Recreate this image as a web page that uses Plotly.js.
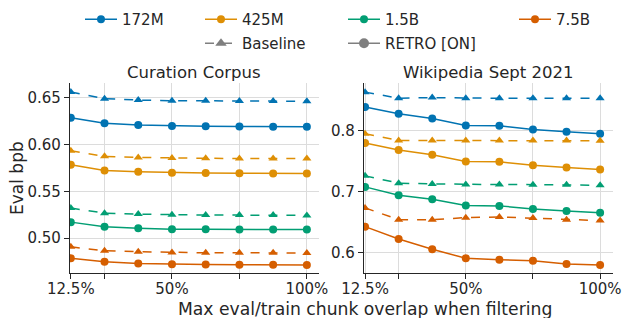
<!DOCTYPE html>
<html><head><meta charset="utf-8">
<script src="https://cdn.plot.ly/plotly-3.0.1.min.js"></script>
<style>body{margin:0;padding:0;background:#fff}#chart{width:625px;height:318px}</style>
</head><body><div id="chart"></div>
<script>
const overlap = [12.5, 25, 37.5, 50, 62.5, 75, 87.5, 100];
const models = ['172M', '425M', '1.5B', '7.5B'];
const colors = ['#0173b2', '#de8f05', '#029e73', '#d55e00'];

// Curation Corpus
const ccBaseline172 = [0.656, 0.649, 0.6475, 0.6467, 0.6467, 0.6466, 0.6466, 0.6462];
const ccRetro172    = [0.6286, 0.6227, 0.6208, 0.6198, 0.6195, 0.6193, 0.6191, 0.619];
const ccBaseline425 = [0.5934, 0.5874, 0.5863, 0.5856, 0.5853, 0.5852, 0.5852, 0.585];
const ccRetro425    = [0.5784, 0.5724, 0.571, 0.570, 0.5696, 0.5693, 0.5692, 0.5692];
const ccBaseline15  = [0.5322, 0.5268, 0.5258, 0.525, 0.5247, 0.5247, 0.5247, 0.5244];
const ccRetro15     = [0.5172, 0.5122, 0.5108, 0.5097, 0.5095, 0.5094, 0.5094, 0.5094];
const ccBaseline75  = [0.4908, 0.4866, 0.4856, 0.4848, 0.4845, 0.4845, 0.4844, 0.4842];
const ccRetro75     = [0.4787, 0.4748, 0.4731, 0.4723, 0.472, 0.4717, 0.4716, 0.4714];

// Wikipedia Sept 2021
const wkBaseline172 = [0.863, 0.853, 0.854, 0.853, 0.853, 0.853, 0.853, 0.853];
const wkRetro172    = [0.8385, 0.8275, 0.8197, 0.8082, 0.8077, 0.8016, 0.7979, 0.7946];
const wkBaseline425 = [0.7946, 0.7836, 0.7836, 0.7835, 0.7835, 0.7834, 0.7834, 0.783];
const wkRetro425    = [0.7793, 0.7678, 0.760, 0.749, 0.7485, 0.7431, 0.7392, 0.7359];
const wkBaseline15  = [0.7255, 0.7135, 0.7123, 0.7112, 0.7112, 0.7111, 0.7111, 0.7101];
const wkRetro15     = [0.7074, 0.6937, 0.6872, 0.6767, 0.6762, 0.6712, 0.6679, 0.6651];
const wkBaseline75  = [0.6729, 0.6536, 0.6536, 0.6569, 0.658, 0.6564, 0.6536, 0.652];
const wkRetro75     = [0.6421, 0.6219, 0.605, 0.5901, 0.5878, 0.5862, 0.5808, 0.5791];

const xTickVals = [12.5, 25, 50, 75, 100];
const xTickText = ['12.5%', '', '50%', '', '100%'];
const ccTicks = [0.50, 0.55, 0.60, 0.65];
const wkTicks = [0.6, 0.7, 0.8];

const ccBase = [ccBaseline172, ccBaseline425, ccBaseline15, ccBaseline75];
const ccRet = [ccRetro172, ccRetro425, ccRetro15, ccRetro75];
const wkBase = [wkBaseline172, wkBaseline425, wkBaseline15, wkBaseline75];
const wkRet = [wkRetro172, wkRetro425, wkRetro15, wkRetro75];
const legendIds = ['legend', 'legend2', 'legend3', 'legend4'];

const traces = [];
for (let i = 0; i < 4; i++) {
  traces.push({x: overlap, y: ccBase[i], xaxis: 'x', yaxis: 'y', mode: 'lines+markers',
    line: {color: colors[i], width: 1.5, dash: 'dash'}, marker: {symbol: 'triangle-up', size: 8, color: colors[i]},
    showlegend: false});
  traces.push({x: overlap, y: ccRet[i], xaxis: 'x', yaxis: 'y', mode: 'lines+markers',
    line: {color: colors[i], width: 1.5}, marker: {symbol: 'circle', size: 8, color: colors[i]},
    name: models[i], showlegend: true, legend: legendIds[i], legendgroup: 'm' + i});
  traces.push({x: overlap, y: wkBase[i], xaxis: 'x2', yaxis: 'y2', mode: 'lines+markers',
    line: {color: colors[i], width: 1.5, dash: 'dash'}, marker: {symbol: 'triangle-up', size: 8, color: colors[i]},
    showlegend: false});
  traces.push({x: overlap, y: wkRet[i], xaxis: 'x2', yaxis: 'y2', mode: 'lines+markers',
    line: {color: colors[i], width: 1.5}, marker: {symbol: 'circle', size: 8, color: colors[i]},
    showlegend: false});
}
traces.push({x: [null], y: [null], xaxis: 'x', yaxis: 'y', mode: 'lines+markers', name: 'Baseline',
  line: {color: '#7f7f7f', width: 1.5, dash: 'dash'}, marker: {symbol: 'triangle-up', size: 10, color: '#7f7f7f'},
  legend: 'legend2', legendgroup: 'base'});
traces.push({x: [null], y: [null], xaxis: 'x', yaxis: 'y', mode: 'lines+markers', name: 'RETRO [ON]',
  line: {color: '#7f7f7f', width: 1.5}, marker: {symbol: 'circle', size: 10, color: '#7f7f7f'},
  legend: 'legend3', legendgroup: 'retro'});

const font = {family: 'DejaVu Sans', color: '#262626'};
const axX = (dom) => ({domain: dom, range: [12.2, 104.5], tickvals: xTickVals, ticktext: xTickText,
  showgrid: true, gridcolor: '#dcdcdc', gridwidth: 1, zeroline: false, showline: true, linecolor: '#262626', linewidth: 1.2,
  ticks: 'outside', ticklen: 5, tickcolor: '#262626', ticklabelstandoff: -3,
  tickfont: {family: 'DejaVu Sans', size: 15, color: '#262626'}});
const axY = (dom, rng, tv, fmt, anchor) => ({domain: dom, range: rng, tickvals: tv, tickformat: fmt, anchor: anchor,
  showgrid: true, gridcolor: '#dcdcdc', gridwidth: 1, zeroline: false, showline: true, linecolor: '#262626', linewidth: 1.2,
  ticks: 'outside', ticklen: 5, tickcolor: '#262626', tickfont: {family: 'DejaVu Sans', size: 15, color: '#262626'}});

const yDom = [0.1406, 0.739];
const legendBase = {orientation: 'v', yanchor: 'top', y: 1 - 3 / 318, xanchor: 'left', bgcolor: 'rgba(0,0,0,0)',
  font: {family: 'DejaVu Sans', size: 15, color: '#262626'}, itemwidth: 32, tracegroupgap: 1.5};

const layout = {
  width: 625, height: 318, margin: {l: 0, r: 0, t: 0, b: 0},
  paper_bgcolor: '#fff', plot_bgcolor: '#fff', font: font,
  xaxis: Object.assign(axX([0.112, 0.5104]), {anchor: 'y'}),
  yaxis: axY(yDom, [0.4626, 0.6657], ccTicks, '.2f', 'x'),
  xaxis2: Object.assign(axX([0.5824, 0.9808]), {anchor: 'y2', range: [12.1, 104.8]}),
  yaxis2: axY(yDom, [0.5655, 0.878], wkTicks, '.1f', 'x2'),
  legend: Object.assign({}, legendBase, {x: 80 / 625}),
  legend2: Object.assign({}, legendBase, {x: 200 / 625}),
  legend3: Object.assign({}, legendBase, {x: 343 / 625}),
  legend4: Object.assign({}, legendBase, {x: 514 / 625}),
  annotations: [
    {text: 'Curation Corpus', xref: 'paper', yref: 'paper', x: 0.3112, y: 0.736, xanchor: 'center', yanchor: 'bottom', showarrow: false,
      font: {family: 'DejaVu Sans', size: 16.5, color: '#262626'}},
    {text: 'Wikipedia Sept 2021', xref: 'paper', yref: 'paper', x: 0.7816, y: 0.736, xanchor: 'center', yanchor: 'bottom', showarrow: false,
      font: {family: 'DejaVu Sans', size: 16.5, color: '#262626'}},
    {text: 'Max eval/train chunk overlap when filtering', xref: 'paper', yref: 'paper', x: 365 / 625, y: -0.01, xanchor: 'center', yanchor: 'bottom',
      showarrow: false, font: {family: 'DejaVu Sans', size: 17.2, color: '#262626'}},
    {text: 'Eval bpb', xref: 'paper', yref: 'paper', x: 17 / 625, y: (318 - 178) / 318, xanchor: 'center', yanchor: 'middle',
      textangle: -90, showarrow: false, font: {family: 'DejaVu Sans', size: 17, color: '#262626'}}
  ]
};

Plotly.newPlot('chart', traces, layout, {displayModeBar: false, staticPlot: true});
</script></body></html>
